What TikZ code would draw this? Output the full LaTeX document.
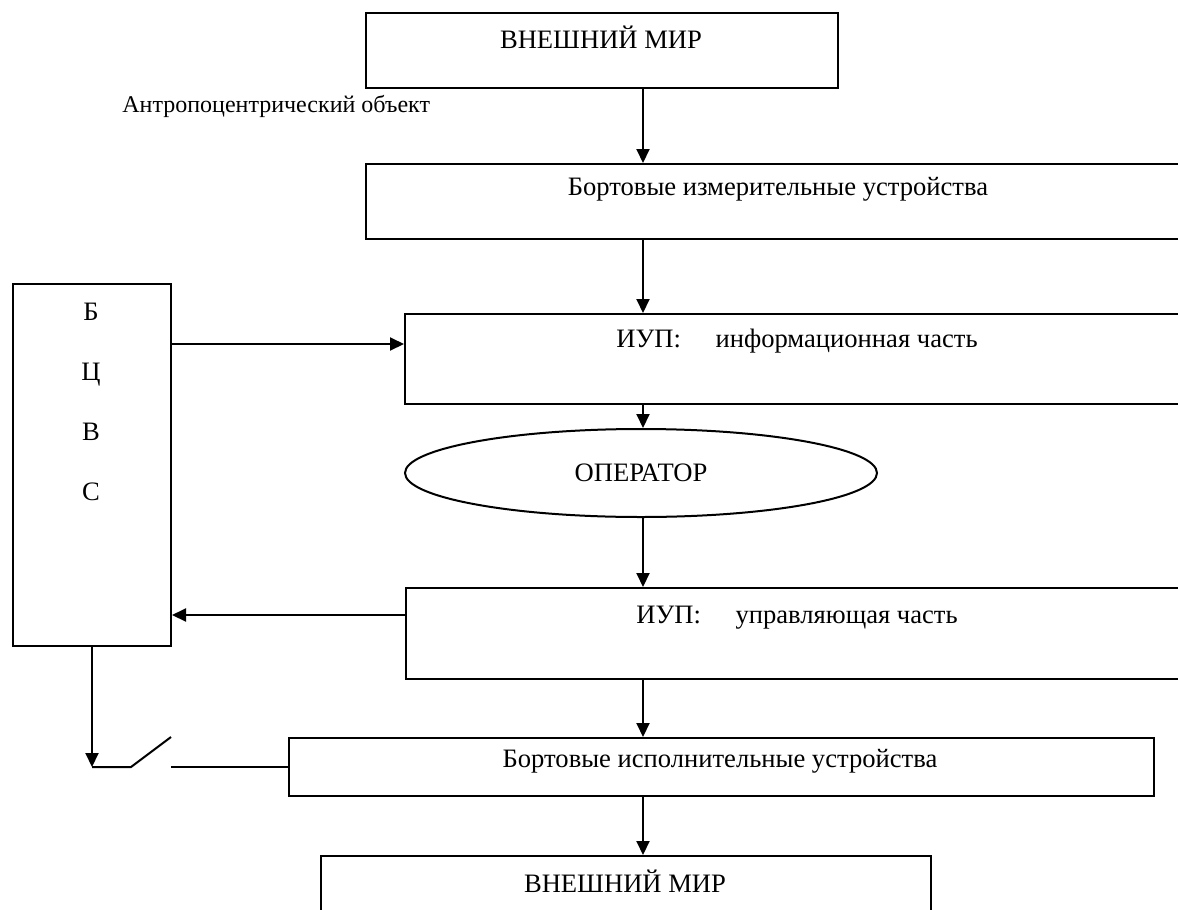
\documentclass[tikz,border=0pt]{standalone}
\usepackage{fontspec}
\setmainfont{Liberation Serif}
\usetikzlibrary{arrows.meta,shapes.geometric}

\def\ax{643}
\def\bx#1#2#3#4#5{\node[blk, minimum width=(#4-#2)*0.5pt, minimum height=(#5-#3)*0.5pt] (#1) at (#2,#3) {};}
\def\tx#1#2#3#4{\node[txt] (#1) at (#2,#3) {#4};}

\tikzset{
  blk/.style={draw=black, line width=1pt, rectangle, inner sep=0pt, anchor=north west},
  txt/.style={inner sep=0pt, anchor=base, font=\fontsize{13.3pt}{15pt}\selectfont},
  arr/.style={line width=1pt, -{Triangle[length=7pt,width=6.5pt]}},
}

\begin{document}
\begin{tikzpicture}[x=0.5pt, y=-0.5pt]
    \useasboundingbox (0,0) rectangle (1178,910);
    \clip (0,0) rectangle (1178,910);
    \coordinate (axis) at (\ax,0);
    % boxes
    \bx{mirtop}{365}{12}{837}{87}
    \bx{izm}{365}{163}{1191}{238}
    \bx{bcvs}{12}{283}{170}{645}
    \bx{iupinfo}{404}{313}{1191}{403}
    \bx{iupupr}{405}{587}{1191}{678}
    \bx{isp}{288}{737}{1153}{795}
    \bx{mirbot}{320}{855}{930}{960}
    \node[txt, anchor=center, draw, ellipse, line width=1pt, minimum width=236pt, minimum height=44pt] (oper) at (641,473) {ОПЕРАТОР};
    % texts
    \tx{tmirtop}{601}{48}{ВНЕШНИЙ МИР}
    \node[txt, anchor=base west, font=\fontsize{12pt}{14pt}\selectfont] (tobj) at (122,112) {Антропоцентрический объект};
    \tx{tizm}{778}{195}{Бортовые измерительные устройства}
    \tx{tinfo}{797}{347}{ИУП:\hspace{1.3em}информационная часть}
    \tx{tupr}{797}{623}{ИУП:\hspace{1.3em}управляющая часть}
    \tx{tisp}{720}{767}{Бортовые исполнительные устройства}
    \tx{tmirbot}{625}{892}{ВНЕШНИЙ МИР}
    \foreach \l [count=\i] in {Б,Ц,В,С}
        \node[txt] (bl\i) at (91,{320+60*(\i-1)}) {\l};
    % arrows along the axis
    \draw[arr] (mirtop.south -| axis) -- (izm.north -| axis);
    \draw[arr] (izm.south -| axis) -- (iupinfo.north -| axis);
    \draw[arr] (iupinfo.south -| axis) -- (oper.north -| axis);
    \draw[arr] (oper.south -| axis) -- (iupupr.north -| axis);
    \draw[arr] (iupupr.south -| axis) -- (isp.north -| axis);
    \draw[arr] (isp.south -| axis) -- (mirbot.north -| axis);
    % BCVS links
    \coordinate (vin) at (170,344);
    \coordinate (vout) at (405,615);
    \draw[arr] (vin) -- (vin -| iupinfo.west);
    \draw[arr] (vout) -- (vout -| bcvs.east);
    % switch
    \coordinate (swa) at (bcvs.south |- isp.west);
    \draw[arr] (bcvs.south) -- (swa);
    \draw[line width=1pt] (swa) -- ++(39,0) coordinate (swb) -- ++(40,-30) coordinate (swc);
    \coordinate (swd) at (swc |- isp.west);
    \draw[line width=1pt] (swd) -- (isp.west);
\end{tikzpicture}
\end{document}
